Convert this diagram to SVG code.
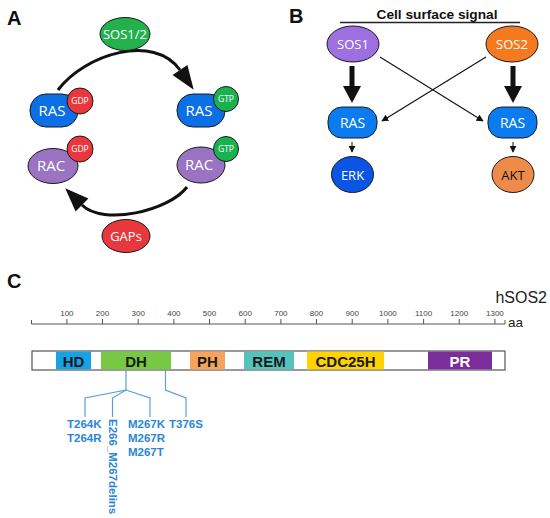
<svg xmlns="http://www.w3.org/2000/svg" width="550" height="518" viewBox="0 0 550 518">
<style>
.panel{font-family:"Liberation Sans",Arial,sans-serif;font-weight:bold;font-size:20px;fill:#111}
.nl{font-family:"Open Sans","Noto Sans",sans-serif;fill:#fff;text-anchor:middle}
.sm{font-family:"Open Sans","Noto Sans",sans-serif;fill:#fff;text-anchor:middle;font-size:8.5px}
.ol{stroke:#1a1a1a;stroke-width:1}
.tick{font-family:"Liberation Sans",Arial,sans-serif;font-size:8px;fill:#444;text-anchor:middle}
.dom{font-family:"Liberation Sans",Arial,sans-serif;font-weight:bold;font-size:15px;fill:#1a1a1a;text-anchor:middle}
.mut{font-family:"Liberation Sans",Arial,sans-serif;font-weight:bold;font-size:11.5px;fill:#2a86d6}
.ml{fill:none;stroke:#5b9ed8;stroke-width:1.2}
</style>
<defs>
<marker id="thin" viewBox="0 0 10 10" refX="9" refY="5" markerWidth="7" markerHeight="7" markerUnits="userSpaceOnUse" orient="auto"><path d="M0,0 L10,5 L0,10 z" fill="#111"/></marker>
</defs>
<rect width="550" height="518" fill="#fff"/>

<!-- Panel A -->
<text class="panel" x="7" y="25">A</text>
<g id="connectors-A">
<path d="M58,90 C85,54 154,33 180,70" fill="none" stroke="#111" stroke-width="3"/>
<polygon points="193.7,89.7 187.4,64.9 172.6,75.1" fill="#111"/>
<path d="M187,187 C169,211 103,226 82,205" fill="none" stroke="#111" stroke-width="3"/>
<polygon points="65.2,188.2 88.4,198.6 75.6,211.4" fill="#111"/>
</g>
<g id="sos12"><ellipse cx="125" cy="34" rx="25" ry="16.5" fill="#22b14c" class="ol"/><text class="nl" x="125" y="39" font-size="13">SOS1/2</text></g>
<g id="gaps"><ellipse cx="126" cy="236" rx="24" ry="16.5" fill="#e8383d" class="ol"/><text class="nl" x="126" y="241" font-size="13">GAPs</text></g>
<g id="ras-gdp"><rect x="30" y="94" width="48" height="33" rx="16" fill="#0b6fe6" class="ol"/><text class="nl" x="52" y="116" font-size="15">RAS</text>
<circle cx="80" cy="101" r="13" fill="#e8383d" class="ol"/><text class="sm" x="80" y="104">GDP</text></g>
<g id="rac-gdp"><ellipse cx="53" cy="166" rx="25" ry="17.5" fill="#9a73c2" class="ol"/><text class="nl" x="51" y="171" font-size="15">RAC</text>
<circle cx="80" cy="149" r="13" fill="#e8383d" class="ol"/><text class="sm" x="80" y="152">GDP</text></g>
<g id="ras-gtp"><rect x="177" y="94" width="48" height="33" rx="16" fill="#0b6fe6" class="ol"/><text class="nl" x="199" y="116" font-size="15">RAS</text>
<circle cx="226" cy="99" r="12.5" fill="#19b24f" class="ol"/><text class="sm" x="226" y="102" font-size="8">GTP</text></g>
<g id="rac-gtp"><ellipse cx="201" cy="165" rx="24" ry="18" fill="#9a73c2" class="ol"/><text class="nl" x="199" y="170" font-size="15">RAC</text>
<circle cx="226" cy="149" r="12.5" fill="#19b24f" class="ol"/><text class="sm" x="226" y="152" font-size="8">GTP</text></g>

<!-- Panel B -->
<text class="panel" x="289" y="23">B</text>
<text x="437" y="19" font-family="Liberation Sans, Arial, sans-serif" font-weight="bold" font-size="13.7" fill="#111" text-anchor="middle">Cell surface signal</text>
<line x1="340" y1="22.5" x2="520" y2="22.5" stroke="#222" stroke-width="1.5"/>
<g id="connectors-B">
<line x1="352" y1="66" x2="352" y2="88" stroke="#111" stroke-width="5"/>
<polygon points="343,86 361,86 352,103" fill="#111"/>
<line x1="513" y1="66" x2="513" y2="88" stroke="#111" stroke-width="5"/>
<polygon points="504,86 522,86 513,103" fill="#111"/>
<line x1="380" y1="57" x2="483" y2="121" stroke="#111" stroke-width="1.1" marker-end="url(#thin)"/>
<line x1="486" y1="57" x2="382" y2="121" stroke="#111" stroke-width="1.1" marker-end="url(#thin)"/>
<line x1="352" y1="142" x2="352" y2="152" stroke="#111" stroke-width="1" marker-end="url(#thin)"/>
<line x1="513" y1="142" x2="513" y2="152" stroke="#111" stroke-width="1" marker-end="url(#thin)"/>
</g>
<g id="sos1"><ellipse cx="353" cy="44" rx="26" ry="18" fill="#9d6fe0" class="ol"/><text class="nl" x="353" y="49" font-size="13">SOS1</text></g>
<g id="sos2"><ellipse cx="512" cy="44" rx="26" ry="18" fill="#f57a1f" class="ol"/><text class="nl" x="512" y="49" font-size="13">SOS2</text></g>
<g id="ras-b1"><rect x="328" y="107" width="49" height="31" rx="14" fill="#0b7cf0" class="ol"/><text class="nl" x="352.5" y="128" font-size="14">RAS</text></g>
<g id="ras-b2"><rect x="488" y="107" width="49" height="31" rx="14" fill="#0b7cf0" class="ol"/><text class="nl" x="512.5" y="128" font-size="14">RAS</text></g>
<g id="erk"><ellipse cx="352.5" cy="174.5" rx="21" ry="18" fill="#0a55e4" class="ol"/><text class="nl" x="352.5" y="179.5" font-size="13" fill="#e8f0ff">ERK</text></g>
<g id="akt"><ellipse cx="513" cy="174.5" rx="21" ry="18" fill="#ee8a4a" class="ol"/><text class="nl" x="513" y="179.5" font-size="13" style="fill:#111">AKT</text></g>

<!-- Panel C -->
<text class="panel" x="7" y="288">C</text>
<text x="547" y="302.5" font-family="Liberation Sans, Arial, sans-serif" font-size="16" fill="#222" text-anchor="end">hSOS2</text>
<g id="ruler" stroke="#555" stroke-width="1">
<line x1="31.5" y1="324" x2="505" y2="324"/>
<line x1="31.5" y1="320" x2="31.5" y2="324"/>
<line x1="505" y1="320" x2="505" y2="324"/>
<line x1="66.9" y1="319" x2="66.9" y2="324"/>
<line x1="102.5" y1="319" x2="102.5" y2="324"/>
<line x1="138.2" y1="319" x2="138.2" y2="324"/>
<line x1="173.9" y1="319" x2="173.9" y2="324"/>
<line x1="209.5" y1="319" x2="209.5" y2="324"/>
<line x1="245.2" y1="319" x2="245.2" y2="324"/>
<line x1="280.9" y1="319" x2="280.9" y2="324"/>
<line x1="316.5" y1="319" x2="316.5" y2="324"/>
<line x1="352.2" y1="319" x2="352.2" y2="324"/>
<line x1="387.9" y1="319" x2="387.9" y2="324"/>
<line x1="423.6" y1="319" x2="423.6" y2="324"/>
<line x1="459.2" y1="319" x2="459.2" y2="324"/>
<line x1="494.9" y1="319" x2="494.9" y2="324"/>
</g>
<g id="ruler-labels">
<text class="tick" x="66.9" y="316">100</text>
<text class="tick" x="102.5" y="316">200</text>
<text class="tick" x="138.2" y="316">300</text>
<text class="tick" x="173.9" y="316">400</text>
<text class="tick" x="209.5" y="316">500</text>
<text class="tick" x="245.2" y="316">600</text>
<text class="tick" x="280.9" y="316">700</text>
<text class="tick" x="316.5" y="316">800</text>
<text class="tick" x="352.2" y="316">900</text>
<text class="tick" x="387.9" y="316">1000</text>
<text class="tick" x="423.6" y="316">1100</text>
<text class="tick" x="459.2" y="316">1200</text>
<text class="tick" x="494.9" y="316">1300</text>
<text x="508" y="327" font-family="Liberation Sans, Arial, sans-serif" font-size="13.5" fill="#222">aa</text>
</g>
<g id="protein">
<rect x="32" y="351" width="473" height="19" fill="#fff" stroke="#555" stroke-width="1.2"/>
<g id="hd"><rect x="56" y="351.6" width="35" height="17.8" fill="#17a2e6"/><text class="dom" x="73.5" y="366.5">HD</text></g>
<g id="dh"><rect x="101" y="351.6" width="70" height="17.8" fill="#77c943"/><text class="dom" x="136" y="366.5">DH</text></g>
<g id="ph"><rect x="190" y="351.6" width="35" height="17.8" fill="#f7a35c"/><text class="dom" x="207.5" y="366.5">PH</text></g>
<g id="rem"><rect x="244" y="351.6" width="50" height="17.8" fill="#54c3bc"/><text class="dom" x="269" y="366.5">REM</text></g>
<g id="cdc25h"><rect x="307" y="351.6" width="77" height="17.8" fill="#ffd200"/><text class="dom" x="345.5" y="366.5">CDC25H</text></g>
<g id="pr"><rect x="428" y="351.6" width="64" height="17.8" fill="#7b2d9b"/><text class="dom" x="460" y="366.5" style="fill:#fff">PR</text></g>
</g>
<g id="mutation-lines">
<path class="ml" d="M126,370 V390 L85,398 V417"/>
<path class="ml" d="M126,390 L112.5,398 V417"/>
<path class="ml" d="M126,390 L150,398 V417"/>
<path class="ml" d="M165.5,370 V390 L186,398 V417"/>
</g>
<g id="mutations">
<text class="mut" x="67" y="428">T264K</text>
<text class="mut" x="67" y="442">T264R</text>
<text class="mut" transform="translate(108.5,419) rotate(90)">E266_M267delins</text>
<text class="mut" x="128" y="428">M267K</text>
<text class="mut" x="128" y="442">M267R</text>
<text class="mut" x="128" y="456">M267T</text>
<text class="mut" x="169" y="428">T376S</text>
</g>
</svg>
